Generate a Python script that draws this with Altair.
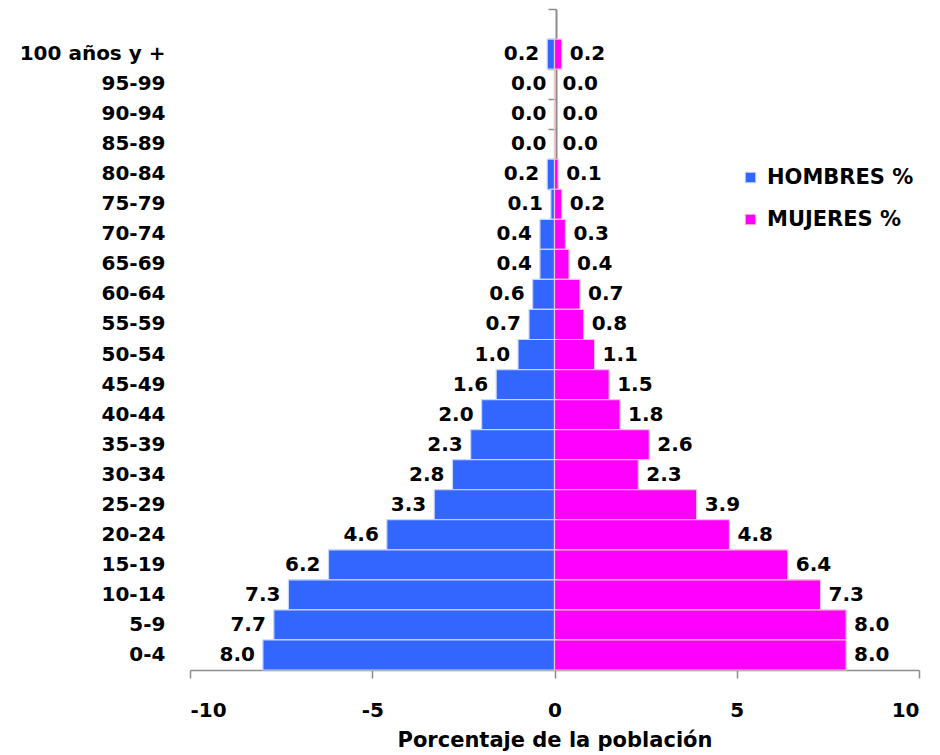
import altair as alt
import pandas as pd

ages = ["100 años y +", "95-99", "90-94", "85-89", "80-84", "75-79", "70-74",
        "65-69", "60-64", "55-59", "50-54", "45-49", "40-44", "35-39", "30-34",
        "25-29", "20-24", "15-19", "10-14", "5-9", "0-4"]
hombres = [0.2, 0.0, 0.0, 0.0, 0.2, 0.1, 0.4, 0.4, 0.6, 0.7, 1.0, 1.6, 2.0, 2.3,
           2.8, 3.3, 4.6, 6.2, 7.3, 7.7, 8.0]
mujeres = [0.2, 0.0, 0.0, 0.0, 0.1, 0.2, 0.3, 0.4, 0.7, 0.8, 1.1, 1.5, 1.8, 2.6,
           2.3, 3.9, 4.8, 6.4, 7.3, 8.0, 8.0]
series = ["HOMBRES %", "MUJERES %"]
xticks = [-10, -5, 0, 5, 10]

rows = []
for a, h, m in zip(ages, hombres, mujeres):
    rows.append({"edad": a, "sexo": series[0], "valor": h, "signed": -h})
    rows.append({"edad": a, "sexo": series[1], "valor": m, "signed": m})
df = pd.DataFrame(rows)

domain = [" "] + ages
FONT = "DejaVu Sans"
FS = 20
yscale = alt.Scale(domain=domain, paddingInner=0, paddingOuter=0)
xscale = alt.Scale(domain=[-10, 10], nice=False, zero=False)

base = alt.Chart(df)

bars = base.mark_bar(strokeWidth=1.2).encode(
    x=alt.X("signed:Q", scale=xscale,
            axis=alt.Axis(values=xticks, title="Porcentaje de la población",
                          labelExpr="'' + datum.value",
                          grid=False, tickSize=8, labelPadding=22,
                          titlePadding=9, domainColor="#8c8c8c",
                          tickColor="#8c8c8c", domainWidth=1.5, tickWidth=1.5,
                          labelFont=FONT, labelFontSize=FS,
                          labelFontWeight="bold", labelColor="black",
                          titleFont=FONT, titleFontSize=FS + 1,
                          titleFontWeight="bold", titleColor="black")),
    x2=alt.datum(0),
    y=alt.Y("edad:N", scale=yscale,
            axis=alt.Axis(title=None, domain=False, ticks=False,
                          labelPadding=25, labelFont=FONT, labelFontSize=FS,
                          labelFontWeight="bold", labelColor="black")),
    fill=alt.Fill("sexo:N",
                  scale=alt.Scale(domain=series, range=["#3366FF", "#FF00FF"]),
                  legend=alt.Legend(title=None, orient="none", legendX=550,
                                    legendY=158, symbolType="square",
                                    symbolSize=110, symbolStrokeColor="#d8d8e8",
                                    symbolStrokeWidth=1, rowPadding=20,
                                    labelFont=FONT, labelFontSize=FS + 1,
                                    labelFontWeight="bold", labelColor="black",
                                    labelOffset=6)),
    stroke=alt.Stroke("sexo:N",
                      scale=alt.Scale(domain=series, range=["#c8d6f8", "#f0c4c8"]),
                      legend=None),
)

center_axis = base.mark_rule(opacity=0).encode(
    y=alt.Y("edad:N", scale=yscale,
            axis=alt.Axis(orient="left", offset=-366, labels=False, title=None,
                          bandPosition=0, tickSize=8, domainColor="#8c8c8c",
                          tickColor="#8c8c8c", domainWidth=2, tickWidth=1.5)),
)

men_text = base.transform_filter(f"datum.sexo == '{series[0]}'").mark_text(
    align="right", dx=-8, font=FONT, fontSize=FS, fontWeight="bold", color="black"
).encode(
    x=alt.X("signed:Q", scale=xscale),
    y=alt.Y("edad:N", scale=yscale, axis=None),
    text=alt.Text("valor:Q", format=".1f"),
)

women_text = base.transform_filter(f"datum.sexo == '{series[1]}'").mark_text(
    align="left", dx=8, font=FONT, fontSize=FS, fontWeight="bold", color="black"
).encode(
    x=alt.X("signed:Q", scale=xscale),
    y=alt.Y("edad:N", scale=yscale, axis=None),
    text=alt.Text("valor:Q", format=".1f"),
)

chart = alt.layer(bars, center_axis, men_text, women_text).resolve_axis(
    y="independent"
).properties(
    width=729, height=661,
    autosize=alt.AutoSizeParams(type="none"),
    padding={"left": 182, "top": 1, "right": 13, "bottom": 84},
    background="white",
).configure_view(stroke=None)

chart.save("out.html", embed_options={"renderer": "svg", "actions": False})
